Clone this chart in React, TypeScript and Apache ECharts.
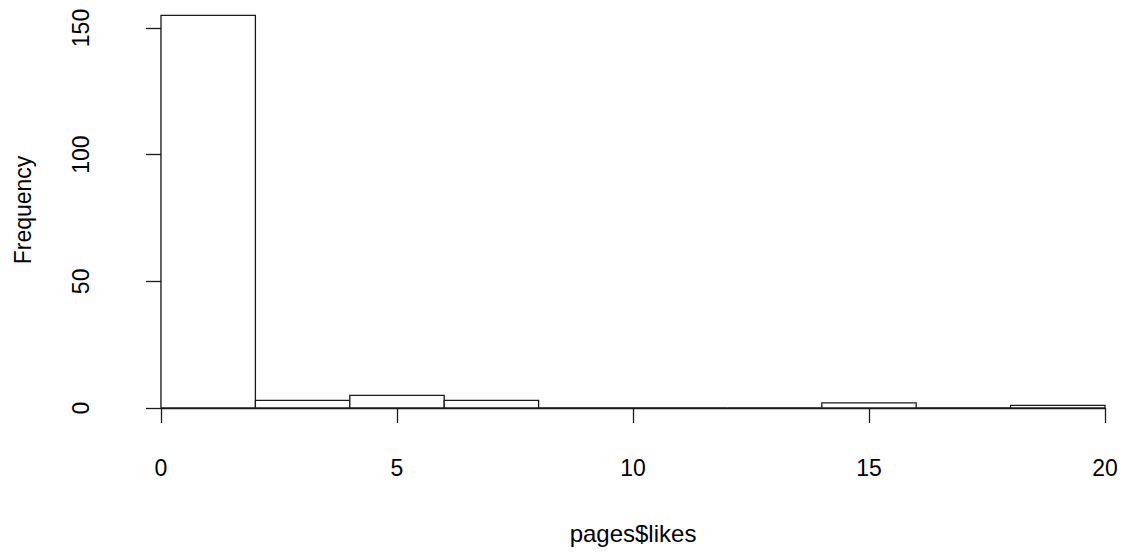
import React, { useEffect, useRef } from "react";
import * as echarts from "echarts";

// Histogram of page likes: bins of width 2 starting at 0
const binStarts = [0, 2, 4, 6, 8, 10, 12, 14, 16, 18];
const binWidth = 2;
const frequencies = [155, 3, 5, 3, 0, 0, 0, 2, 0, 1];

// Axis tick values
const xTicks = [0, 5, 10, 15, 20];
const yTicks = [0, 50, 100, 150];

const xTitle = "pages$likes";
const yTitle = "Frequency";

const FONT = '"Liberation Sans", Arial, Helvetica, sans-serif';
const INK = "#1a1a1a";
const LINE_W = 1.3;

export default function App() {
  const ref = useRef<HTMLDivElement>(null);

  useEffect(() => {
    if (!ref.current) return;
    const chart = echarts.init(ref.current, undefined, { renderer: "svg" });

    const bins = binStarts.map((s, i) => [s, s + binWidth, frequencies[i]]);

    const xStep = xTicks[1] - xTicks[0];
    const yStep = yTicks[1] - yTicks[0];

    chart.setOption({
      animation: false,
      backgroundColor: "#ffffff",
      grid: {
        left: 161,
        right: 22,
        top: 28,
        bottom: 144,
        containLabel: false,
      },
      xAxis: {
        type: "value",
        position: "bottom",
        offset: 16,
        min: xTicks[0],
        max: xTicks[xTicks.length - 1],
        interval: xStep,
        splitLine: { show: false },
        axisLine: { show: true, lineStyle: { color: INK, width: LINE_W } },
        axisTick: { show: true, length: 15, lineStyle: { color: INK, width: LINE_W } },
        axisLabel: {
          color: "#000",
          fontSize: 23,
          fontFamily: FONT,
          margin: 32,
        },
      },
      yAxis: {
        type: "value",
        position: "left",
        offset: 38,
        min: yTicks[0],
        max: yTicks[yTicks.length - 1],
        interval: yStep,
        splitLine: { show: false },
        axisLine: { show: true, lineStyle: { color: INK, width: LINE_W } },
        axisTick: { show: true, length: 15, lineStyle: { color: INK, width: LINE_W } },
        axisLabel: {
          color: "#000",
          fontSize: 23,
          fontFamily: FONT,
          rotate: 90,
          margin: 31,
        },
      },
      graphic: [
        {
          type: "text",
          x: 23,
          y: 210,
          rotation: Math.PI / 2,
          style: {
            text: yTitle,
            fontSize: 23,
            fontFamily: FONT,
            fill: "#000",
            align: "center",
            verticalAlign: "middle",
          },
        },
        {
          type: "text",
          x: 633,
          y: 533,
          style: {
            text: xTitle,
            fontSize: 24,
            fontFamily: FONT,
            fill: "#000",
            align: "center",
            verticalAlign: "middle",
          },
        },
      ],
      series: [
        {
          type: "custom",
          clip: false,
          encode: { x: [0, 1], y: 2 },
          data: bins,
          renderItem: (_params: any, api: any) => {
            const x0 = api.value(0);
            const x1 = api.value(1);
            const count = api.value(2);
            const topLeft = api.coord([x0, count]);
            const bottomRight = api.coord([x1, 0]);
            return {
              type: "rect",
              shape: {
                x: topLeft[0],
                y: topLeft[1],
                width: bottomRight[0] - topLeft[0],
                height: bottomRight[1] - topLeft[1],
              },
              style: { fill: "#ffffff", stroke: INK, lineWidth: LINE_W },
            };
          },
        },
      ],
    });

    return () => chart.dispose();
  }, []);

  return (
    <div
      ref={ref}
      style={{ position: "fixed", left: 0, top: 0, width: 1127, height: 552 }}
    />
  );
}
